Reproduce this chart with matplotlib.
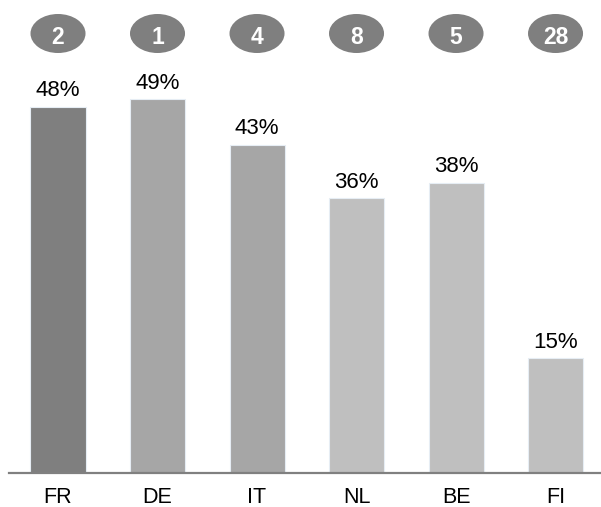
import matplotlib
matplotlib.use("Agg")
import matplotlib.pyplot as plt
from matplotlib.patches import Ellipse
from matplotlib.transforms import blended_transform_factory

plt.rcParams['font.family'] = ['Liberation Sans', 'DejaVu Sans']

# data
countries = ['FR', 'DE', 'IT', 'NL', 'BE', 'FI']
shares = [48, 49, 43, 36, 38, 15]
ranks = ['2', '1', '4', '8', '5', '28']
bar_colors = ['#7f7f7f', '#a6a6a6', '#a6a6a6', '#bfbfbf', '#bfbfbf', '#bfbfbf']

W, H = 601, 507
fig = plt.figure(figsize=(W / 100, H / 100), dpi=100)
ax = fig.add_axes([9 / W, 34.5 / H, 592 / W, 472.5 / H])

x = list(range(len(countries)))
ax.bar(x, shares, width=0.553, color=bar_colors, edgecolor='#e6edf4', linewidth=0.8)

ax.set_xlim(-0.4925, 5.457)
ax.set_ylim(0, 62.0)

# value labels above bars
for xi, v in zip(x, shares):
    ax.annotate(f'{v}%', (xi, v), xytext=(0, 7.6), textcoords='offset points',
                ha='center', va='baseline', fontsize=16, color='#000000')

# rank badges along the top
trans = blended_transform_factory(ax.transData, fig.transFigure)
for xi, r in zip(x, ranks):
    yc = 1 - 33.5 / H
    ax.add_patch(Ellipse((xi, yc), 0.553, 39 / H, transform=trans,
                         facecolor='#7f7f7f', edgecolor='none', clip_on=False))
    ax.text(xi, yc - 1 / H, r, transform=trans, ha='center', va='center_baseline',
            fontsize=16.5, fontweight='bold', color='white')

for s in ['top', 'right', 'left']:
    ax.spines[s].set_visible(False)
ax.spines['bottom'].set_color('#808080')
ax.spines['bottom'].set_linewidth(1.6)
ax.set_yticks([])
ax.set_xticks(x)
ax.set_xticklabels(countries, fontsize=15.5)
ax.tick_params(axis='x', length=0, pad=10.5)

fig.savefig('out.png', dpi=100, facecolor='white')
